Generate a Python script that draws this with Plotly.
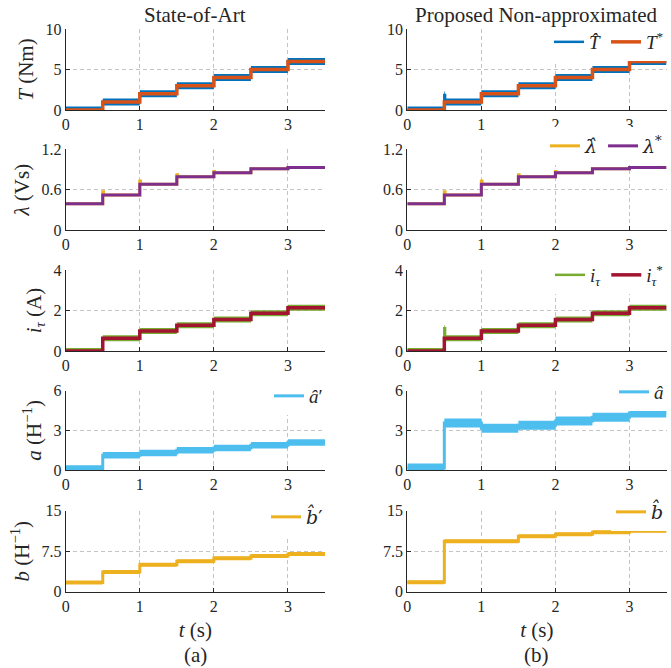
import plotly.graph_objects as go

# ---------------- data ----------------
t_step = [0.0, 0.5, 1.0, 1.5, 2.0, 2.5, 3.0, 3.5]

# Torque (Nm)
T_star = [0, 1, 2, 3, 4, 5, 6, 6]
T_hat_a = [0, 1, 2, 3, 4, 5, 6, 6]
t_T_hat_b = [0.0, 0.5, 0.51, 1.0, 1.5, 2.0, 2.5, 3.0, 3.5]
T_hat_b = [0, 1.85, 1.0, 2, 3, 4, 5, 6, 6]

# Flux linkage (Vs)
lam_star = [0.39, 0.52, 0.68, 0.79, 0.85, 0.91, 0.93, 0.93]
t_lam_hat = [0.0, 0.5, 0.51, 1.0, 1.01, 1.5, 1.51, 2.0, 2.01, 2.5, 3.0, 3.5]
lam_hat = [0.39, 0.57, 0.52, 0.73, 0.68, 0.82, 0.79, 0.87, 0.85, 0.91, 0.93, 0.93]

# Torque current (A)
i_star = [0, 0.63, 0.99, 1.27, 1.56, 1.86, 2.14, 2.14]
i_hat_a = [0, 0.63, 0.99, 1.27, 1.56, 1.86, 2.14, 2.14]
t_i_hat_b = [0.0, 0.5, 0.51, 1.0, 1.5, 2.0, 2.5, 3.0, 3.5]
i_hat_b = [0, 1.12, 0.63, 0.99, 1.27, 1.56, 1.86, 2.14, 2.14]

# a estimates (1/H)
a_hat_a = [0.12, 1.12, 1.29, 1.49, 1.67, 1.88, 2.08, 2.08]
a_hat_b = [0.15, 3.56, 3.15, 3.38, 3.70, 4.00, 4.32, 4.32]

# b estimates (1/H)
b_hat_a = [1.7, 3.65, 5.0, 5.65, 6.2, 6.6, 7.0, 7.0]
b_hat_b = [1.76, 9.33, 9.33, 10.28, 10.62, 11.0, 11.3, 11.3]

col_titles = ["State-of-Art", "Proposed Non-approximated"]
panel_tags = ["(a)", "(b)"]
y_titles = ["<i>T</i> (Nm)", "<i>λ</i> (Vs)", "<i>i</i><sub><i>τ</i></sub> (A)",
            "<i>a</i> (H<sup>−1</sup>)", "<i>b</i> (H<sup>−1</sup>)"]
x_title = "<i>t</i> (s)"
y_ranges = [[0, 10], [0, 1.2], [0, 4], [0, 6], [0, 15]]
y_ticks = [[0, 5, 10], [0, 0.6, 1.2], [0, 2, 4], [0, 3, 6], [0, 7.5, 15]]
y_ticktext = [["0", "5", "10"], ["0", "0.6", "1.2"], ["0", "2", "4"], ["0", "3", "6"], ["0", "7.5", "15"]]
x_ticks = [0, 1, 2, 3]
x_ticktext = ["0", "1", "2", "3"]

# ---------------- style ----------------
BLUE = "#0072BD"
ORANGE = "#D95319"
YELLOW = "#EDB120"
PURPLE = "#7E2F8E"
GREEN = "#77AC30"
LBLUE = "#4DBEEE"
DRED = "#A2142F"
FONT = "Liberation Serif"
AX = "#262626"
GRID = "#c4c4c4"
W, H = 671, 668

col_x = [(65.7, 325.0), (407.3, 666.5)]
row_y = [(29, 110), (149.3, 230), (270, 351), (390.7, 470), (510.7, 591.7)]

fig = go.Figure()
layout = dict(width=W, height=H, margin=dict(l=0, r=0, t=0, b=0, autoexpand=False),
              paper_bgcolor="white", plot_bgcolor="white",
              font=dict(family=FONT, size=16, color=AX), showlegend=True)

TICKFONT = dict(family=FONT, size=16, color=AX)


def sfx(r, c):
    n = r * 2 + c + 1
    return "" if n == 1 else str(n)


for r in range(5):
    for c in range(2):
        xs = sfx(r, c)
        x0, x1 = col_x[c]
        y0, y1 = row_y[r]
        xa = dict(domain=[x0 / W, x1 / W], anchor="y" + xs, range=[0, 3.5],
                  tickmode="array", tickvals=x_ticks, ticktext=x_ticktext,
                  showline=True, linecolor=AX, linewidth=1,
                  ticks="inside", ticklen=4, tickcolor=AX, showgrid=True,
                  gridcolor=GRID, griddash="4px,3px", gridwidth=1,
                  zeroline=False, tickfont=TICKFONT, automargin=False)
        if r == 4:
            xa["title"] = dict(text=x_title, font=dict(family=FONT, size=21, color=AX), standoff=8)
        ya = dict(domain=[1 - y1 / H, 1 - y0 / H], anchor="x" + xs, range=y_ranges[r],
                  tickmode="array", tickvals=y_ticks[r], ticktext=y_ticktext[r],
                  showline=True, linecolor=AX,
                  linewidth=1, ticks="inside", ticklen=4, tickcolor=AX, showgrid=True,
                  gridcolor=GRID, griddash="4px,3px", gridwidth=1,
                  zeroline=False, tickfont=TICKFONT, automargin=False)
        if c == 0:
            ya["title"] = dict(text=y_titles[r], font=dict(family=FONT, size=21, color=AX), standoff=6)
        layout["xaxis" + xs] = xa
        layout["yaxis" + xs] = ya


def band(x, y, color, width, r, c):
    """Noisy measured signal: thick horizontal segments for each step level."""
    bx, by = [], []
    for k in range(len(x) - 1):
        bx += [x[k], x[k + 1], None]
        by += [y[k], y[k], None]
    xs = sfx(r, c)
    fig.add_trace(go.Scatter(x=bx, y=by, mode="lines", line=dict(color=color, width=width),
                             xaxis="x" + xs, yaxis="y" + xs, showlegend=False, hoverinfo="skip"))


def line(x, y, color, width, r, c, name=None, legend=None):
    xs = sfx(r, c)
    fig.add_trace(go.Scatter(
        x=x, y=y, mode="lines", line=dict(color=color, width=width, shape="hv"),
        xaxis="x" + xs, yaxis="y" + xs, name=name or "",
        showlegend=legend is not None, legend=legend or "legend", hoverinfo="skip"))


# row 0: torque
band(t_step, T_hat_a, BLUE, 7, 0, 0)
line(t_step, T_hat_a, BLUE, 2.5, 0, 0)
line(t_step, T_star, ORANGE, 3.5, 0, 0)
band(t_T_hat_b, T_hat_b, BLUE, 7, 0, 1)
line(t_T_hat_b, T_hat_b, BLUE, 2.5, 0, 1, "<i>T̂</i>", "legend")
line(t_step, T_star, ORANGE, 3.5, 0, 1, "<i>T</i><sup>*</sup>", "legend")
# row 1: flux
line(t_lam_hat, lam_hat, YELLOW, 3, 1, 0)
line(t_step, lam_star, PURPLE, 3, 1, 0)
line(t_lam_hat, lam_hat, YELLOW, 3, 1, 1, "<i>λ̂</i>", "legend2")
line(t_step, lam_star, PURPLE, 3, 1, 1, "<i>λ</i><sup>*</sup>", "legend2")
# row 2: current
band(t_step, i_hat_a, GREEN, 6, 2, 0)
line(t_step, i_hat_a, GREEN, 2.5, 2, 0)
line(t_step, i_star, DRED, 3.5, 2, 0)
band(t_i_hat_b, i_hat_b, GREEN, 6, 2, 1)
line(t_i_hat_b, i_hat_b, GREEN, 2.5, 2, 1, "<i>i</i><sub><i>τ</i></sub>", "legend3")
line(t_step, i_star, DRED, 3.5, 2, 1, "<i>i</i><sub><i>τ</i></sub><sup>*</sup>", "legend3")
# row 3: a
band(t_step, a_hat_a, LBLUE, 6.5, 3, 0)
line(t_step, a_hat_a, LBLUE, 3, 3, 0, "<i>â</i>′", "legend4")
band(t_step, a_hat_b, LBLUE, 9, 3, 1)
line(t_step, a_hat_b, LBLUE, 3, 3, 1, "<i>â</i>", "legend5")
# row 4: b
band(t_step, b_hat_a, YELLOW, 4, 4, 0)
line(t_step, b_hat_a, YELLOW, 3, 4, 0, "<i>b̂</i>′", "legend6")
band(t_step, b_hat_b, YELLOW, 4, 4, 1)
line(t_step, b_hat_b, YELLOW, 3, 4, 1, "<i>b̂</i>", "legend7")


def leg(xr, yc, fam=FONT):
    return dict(x=xr / W, y=1 - yc / H, xanchor="right", yanchor="middle",
                orientation="h", bgcolor="white", borderwidth=0,
                font=dict(family=fam, size=19, color=AX), itemwidth=30,
                tracegroupgap=0, itemclick=False, itemdoubleclick=False)


layout["legend"] = leg(669, 42)
layout["legend2"] = leg(669, 146, "DejaVu Serif")
layout["legend3"] = leg(669, 275)
layout["legend4"] = leg(328, 396)
layout["legend5"] = leg(669, 392)
layout["legend6"] = leg(328, 517, "DejaVu Serif")
layout["legend7"] = leg(669, 512, "DejaVu Serif")

annotations = []
for c in range(2):
    xc = (col_x[c][0] + col_x[c][1]) / 2 / W
    annotations.append(dict(text=col_titles[c], x=xc, y=1 - 15 / H, xref="paper", yref="paper",
                            showarrow=False, font=dict(family=FONT, size=21, color=AX),
                            xanchor="center", yanchor="middle"))
    annotations.append(dict(text=panel_tags[c], x=xc, y=1 - 655 / H,
                            xref="paper", yref="paper", showarrow=False,
                            font=dict(family=FONT, size=21, color=AX),
                            xanchor="center", yanchor="middle"))
layout["annotations"] = annotations

fig.update_layout(**layout)
fig.write_html("out.html", config={"displayModeBar": False},
               post_script="document.body.style.margin='0px';document.body.style.overflow='hidden';")
